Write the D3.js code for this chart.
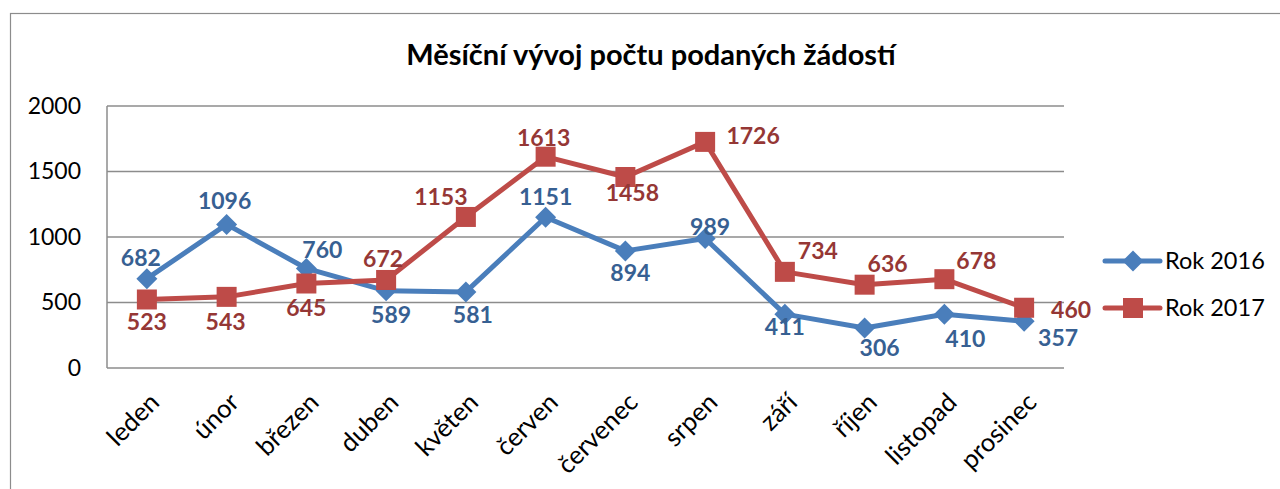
<!DOCTYPE html>
<html><head><meta charset="utf-8">
<script src="https://cdn.jsdelivr.net/npm/d3@7"></script>
<style>html,body{margin:0;padding:0;background:#fff;overflow:hidden}</style>
</head><body>
<svg id="c" width="1280" height="489"></svg>
<script>
const title = "Měsíční vývoj počtu podaných žádostí";
const categories = ["leden","únor","březen","duben","květen","červen","červenec","srpen","září","říjen","listopad","prosinec"];
const seriesNames = ["Rok 2016","Rok 2017"];
const values2016 = [682,1096,760,589,581,1151,894,989,411,306,410,357];
const values2017 = [523,543,645,672,1153,1613,1458,1726,734,636,678,460];
const yTicks = [0,500,1000,1500,2000];

// label offsets (layout, px from the marker centre)
const labelOff2016 = [[-6,-21],[-2,-24],[16,-19],[5,24],[7,23],[0,-20],[5,22],[5,-12],[0,13],[15,20],[21,24],[34,16]];
const labelOff2017 = [[0,22],[-1,25],[0,24],[-3,-21],[-25,-20],[-2,-19],[7,16],[48,-6],[33,-21],[23,-21],[32,-18],[47,2]];

const FONT = "Lato, 'Open Sans', sans-serif";
const blue = "#4a7ebb", red = "#be4b48";
const blueLbl = "#376092", redLbl = "#953735";
const grid = "#8c8c8c";

const svg = d3.select("#c");
svg.append("rect").attr("x",10.5).attr("y",13.5).attr("width",1300).attr("height",500)
  .attr("fill","#fff").attr("stroke","#8c8c8c").attr("stroke-width",1.2);

const L=107, R=1064, T=106, B=368;
const x = d3.scaleBand().domain(categories).range([L,R]);
const y = d3.scaleLinear().domain([0,2000]).range([B,T]);
const cx = d => x(d)+x.bandwidth()/2;

svg.append("text").attr("x",651).attr("y",65).attr("text-anchor","middle")
  .attr("font-family",FONT).attr("font-weight","bold").attr("font-size",29).attr("fill","#000").text(title);

// gridlines
svg.append("g").selectAll("line").data(yTicks).join("line")
  .attr("x1",L).attr("x2",R).attr("y1",d=>y(d)).attr("y2",d=>y(d))
  .attr("stroke",grid).attr("stroke-width",1.5);
svg.append("line").attr("x1",L).attr("x2",L).attr("y1",T).attr("y2",B).attr("stroke",grid).attr("stroke-width",1.5);

// y axis
const yAxis = svg.append("g").attr("transform",`translate(${L},0)`)
  .call(d3.axisLeft(y).tickValues(yTicks).tickSize(0).tickPadding(26).tickFormat(d3.format("d")));
yAxis.select(".domain").remove();
yAxis.selectAll("text").attr("font-family",FONT).attr("font-size",23).attr("fill","#000");

// x axis
const xAxis = svg.append("g").attr("transform",`translate(0,${B})`)
  .call(d3.axisBottom(x).tickSize(0));
xAxis.select(".domain").remove();
xAxis.selectAll("text")
  .attr("font-family",FONT).attr("font-size",25.5).attr("fill","#000")
  .attr("text-anchor","end").attr("y",0).attr("dy","0.72em")
  .attr("transform","translate(1,23) rotate(-45)");

const line = d3.line().x((d,i)=>cx(categories[i])).y(d=>y(d));
const series = [
  {name:seriesNames[0], vals:values2016, color:blue, lbl:blueLbl, off:labelOff2016, shape:"diamond"},
  {name:seriesNames[1], vals:values2017, color:red, lbl:redLbl, off:labelOff2017, shape:"square"}
];
function marker(g, shape, color){
  if(shape==="diamond"){
    g.append("path").attr("d","M0,-10.5L10.5,0L0,10.5L-10.5,0Z").attr("fill",color);
  } else {
    g.append("rect").attr("x",-10).attr("y",-10).attr("width",20).attr("height",20).attr("fill",color);
  }
}
series.forEach(s=>{
  svg.append("path").datum(s.vals).attr("d",line).attr("fill","none")
    .attr("stroke",s.color).attr("stroke-width",5).attr("stroke-linejoin","round");
});
series.forEach(s=>{
  s.vals.forEach((v,i)=>{
    const g = svg.append("g").attr("transform",`translate(${cx(categories[i])},${y(v)})`);
    marker(g,s.shape,s.color);
  });
});
series.forEach(s=>{
  svg.append("g").selectAll("text").data(s.vals).join("text")
    .attr("x",(d,i)=>cx(categories[i])+s.off[i][0])
    .attr("y",(d,i)=>y(d)+s.off[i][1])
    .attr("dy","0.36em").attr("text-anchor","middle")
    .attr("font-family",FONT).attr("font-weight","bold").attr("font-size",23)
    .attr("fill",s.lbl).text(d=>d);
});

// legend
const legY = [261,308];
series.forEach((s,i)=>{
  const g = svg.append("g").attr("transform",`translate(0,${legY[i]})`);
  g.append("line").attr("x1",1105).attr("x2",1160).attr("stroke",s.color).attr("stroke-width",5).attr("stroke-linecap","round");
  const m = g.append("g").attr("transform","translate(1133,0)");
  marker(m,s.shape,s.color);
  g.append("text").attr("x",1165).attr("dy","0.36em").attr("font-family",FONT).attr("font-size",23.5).attr("fill","#000").text(s.name);
});
</script>
</body></html>
